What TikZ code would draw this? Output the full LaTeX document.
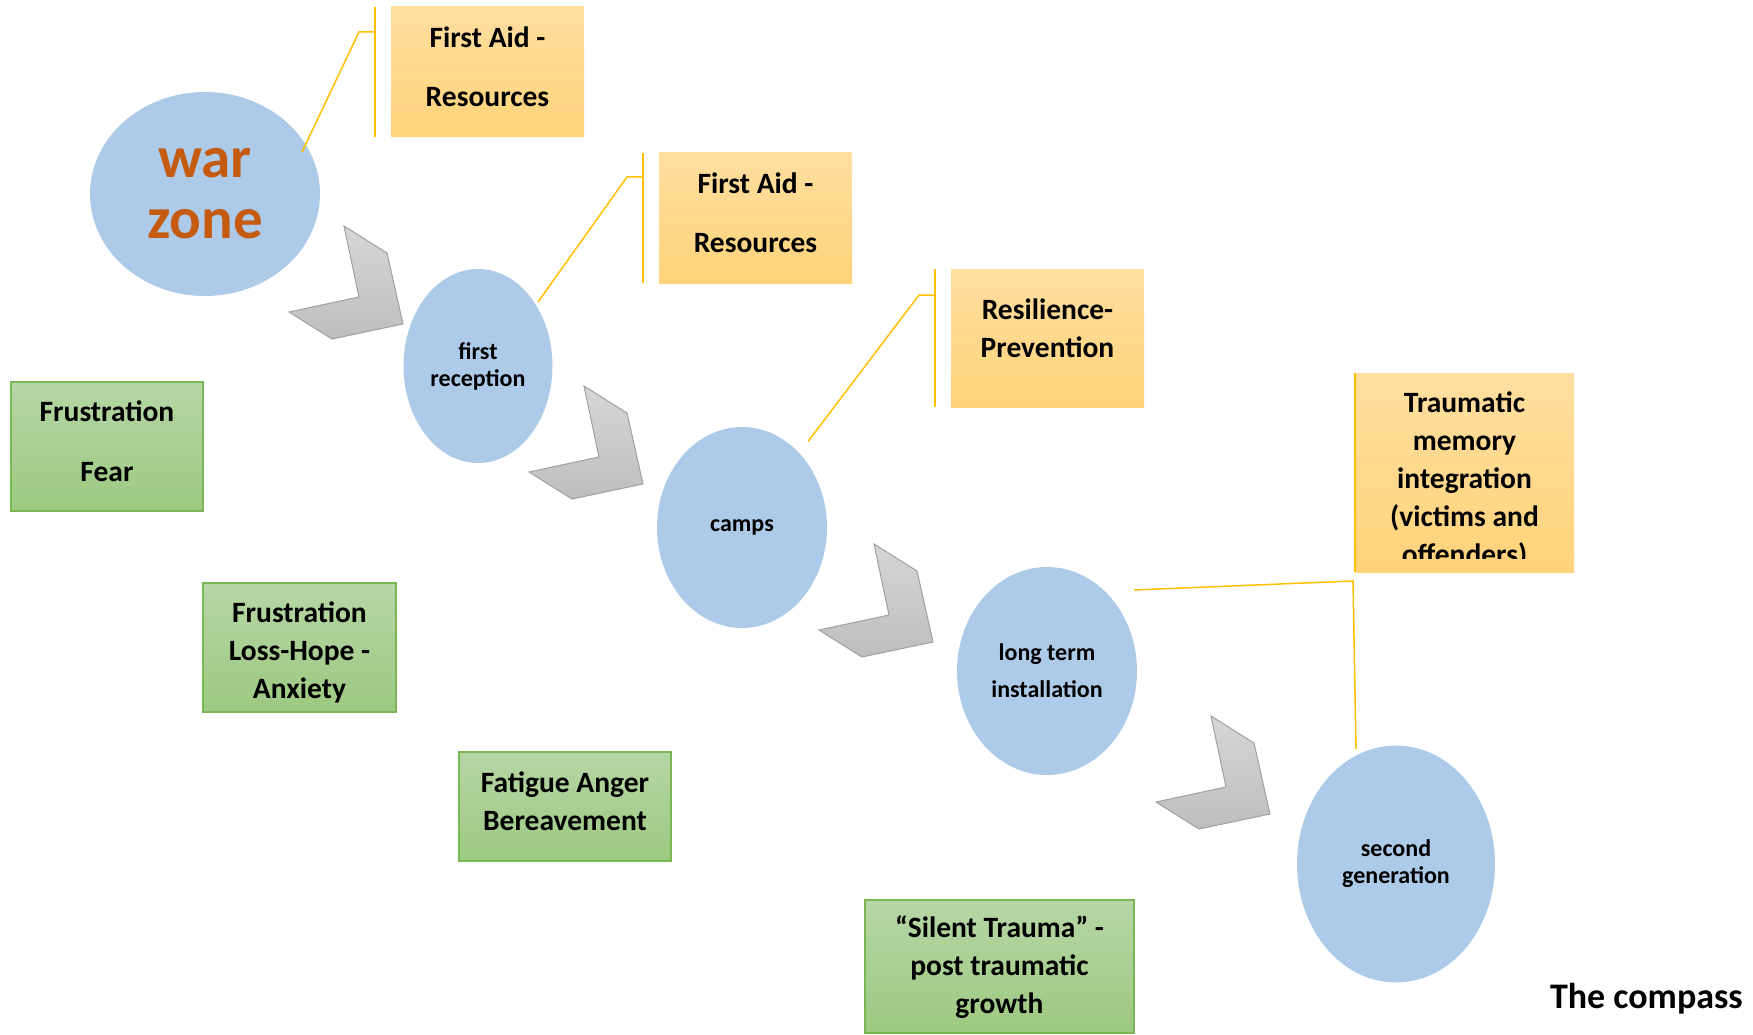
\documentclass[tikz,border=0pt]{standalone}
\usepackage{fontspec}
\setmainfont{Carlito}
\usepackage{tikz}
\usetikzlibrary{shapes.geometric}

\definecolor{bubble}{RGB}{173,203,232}
\definecolor{warorange}{RGB}{197,90,17}
\definecolor{goldline}{RGB}{255,192,0}
\definecolor{ambertop}{RGB}{255,222,160}
\definecolor{amberbot}{RGB}{255,211,122}
\definecolor{sagetop}{RGB}{182,214,166}
\definecolor{sagebot}{RGB}{157,201,129}
\definecolor{sageedge}{RGB}{122,182,84}
\definecolor{arrowtop}{RGB}{214,214,214}
\definecolor{arrowbot}{RGB}{190,190,190}
\definecolor{arrowedge}{RGB}{160,160,160}

\tikzset{
  stage/.style={ellipse, fill=bubble, inner sep=0pt, align=center,
    font=\bfseries\fontsize{24}{27}\selectfont},
  amberbox/.style={rectangle, inner sep=0pt, top color=ambertop, bottom color=amberbot},
  sagebox/.style={rectangle, inner sep=0pt, top color=sagetop, bottom color=sagebot,
    draw=sageedge, line width=2pt},
  boxtext/.style={inner sep=0pt, align=center, anchor=north,
    font=\bfseries\fontsize{29.5}{38}\selectfont},
  widetext/.style={boxtext, font=\bfseries\fontsize{29.5}{59}\selectfont},
  leader/.style={draw=goldline, line width=1.5pt},
}

\begin{document}
\begin{tikzpicture}[x=1pt, y=-1pt]
	\useasboundingbox (0,0) rectangle (1753,1035);
	% chevrons between the stages
	\foreach \dx/\dy in {0/0, 240/160, 530/318, 867/490}
		\shade[top color=arrowtop, bottom color=arrowbot, draw=arrowedge, line width=1pt, shift={(\dx,\dy)}]
			(344,226) -- (387,253) -- (403,324) -- (332,339) -- (289,312) -- (359,297) -- cycle;
	% stages
	\node[stage, minimum width=230pt, minimum height=204pt, text=warorange,
		font=\bfseries\fontsize{59}{61}\selectfont] (warzone) at (205,194) {war\\zone};
	\node[stage, minimum width=149pt, minimum height=194pt] (reception) at (478,366) {first\\reception};
	\node[stage, minimum width=170pt, minimum height=201pt] (camps) at (742,527.5) {camps};
	\node[stage, minimum width=180pt, minimum height=208pt,
		font=\bfseries\fontsize{24}{37}\selectfont] (longterm) at (1047,671) {long term\\installation};
	\node[stage, minimum width=198pt, minimum height=237pt] (secondgen) at (1396,864) {second\\generation};
	% resources boxes
	\node[amberbox, minimum width=193pt, minimum height=130pt] (aid1) at (487.5,72) {};
	\node[amberbox, minimum width=193pt, minimum height=130pt] (aid2) at (755.5,218) {};
	\node[amberbox, minimum width=193pt, minimum height=138pt] (resil) at (1047.5,338) {};
	\node[amberbox, minimum width=219pt, minimum height=199pt] (trauma) at (1464.5,472.5) {};
	\node[widetext] (aid1txt) at (487.5,27) {First Aid -\\Resources};
	\node[widetext] (aid2txt) at (755.5,173) {First Aid -\\Resources};
	\node[boxtext] (resiltxt) at (1047.5,299) {Resilience-\\Prevention};
	\begin{scope}
		\clip (trauma.north west) rectangle ([yshift=14pt]trauma.south east);
		\node[boxtext] (traumatxt) at (1464.5,392) {Traumatic\\memory\\integration\\(victims and\\offenders)};
	\end{scope}
	% feelings boxes
	\node[sagebox, minimum width=192pt, minimum height=129pt] (fear) at (107,446.5) {};
	\node[sagebox, minimum width=193pt, minimum height=129pt] (anxiety) at (299.5,647.5) {};
	\node[sagebox, minimum width=212pt, minimum height=109pt] (fatigue) at (565,806.5) {};
	\node[sagebox, minimum width=269pt, minimum height=133pt] (silent) at (999.5,966.5) {};
	\node[widetext, font=\bfseries\fontsize{29.5}{60}\selectfont] (feartxt) at (107,401) {Frustration\\Fear};
	\node[boxtext] (anxietytxt) at (299.5,602) {Frustration\\Loss-Hope -\\Anxiety};
	\node[boxtext] (fatiguetxt) at (565,772) {Fatigue Anger\\Bereavement};
	\node[boxtext] (silenttxt) at (999.5,916) {“Silent Trauma” -\\post traumatic\\growth};
	% callout leaders
	\coordinate (aid1knee) at (359,32);
	\coordinate (aid2knee) at (627,177);
	\coordinate (resilknee) at (919,295);
	\coordinate (traumaknee) at (1353,581);
	\draw[leader] ([shift={(97,-42)}]warzone.center) -- (aid1knee) -- ++(16,0);
	\draw[leader] ([xshift=-16pt]aid1.north west) -- ([xshift=-16pt]aid1.south west);
	\draw[leader] ([shift={(60,-64)}]reception.center) -- (aid2knee) -- ++(16,0);
	\draw[leader] ([xshift=-16pt]aid2.north west) -- ([xshift=-16pt]aid2.south west);
	\draw[leader] ([shift={(66,-86)}]camps.center) -- (resilknee) -- ++(16,0);
	\draw[leader] ([xshift=-16pt]resil.north west) -- ([xshift=-16pt]resil.south west);
	\draw[leader] ([shift={(87,-81)}]longterm.center) -- (traumaknee) -- ([shift={(-40,-115)}]secondgen.center);
	\draw[leader] (trauma.north west) -- (trauma.south west);
	% title
	\node[anchor=base east, inner sep=0pt, font=\bfseries\fontsize{36}{42}\selectfont] (compass) at (1743,1008) {The compass};
\end{tikzpicture}
\end{document}
